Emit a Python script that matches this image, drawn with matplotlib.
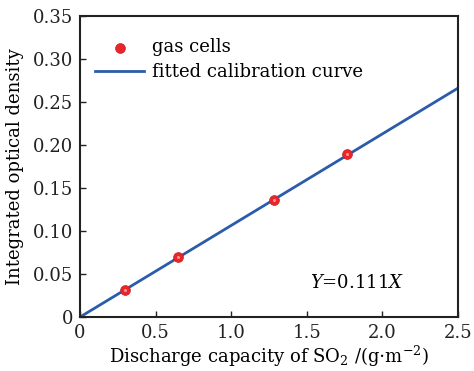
import matplotlib
matplotlib.use("Agg")
import matplotlib.pyplot as plt

# measured points (gas cells)
x_pts = [0.298, 0.648, 1.283, 1.766]
y_pts = [0.0315, 0.070, 0.1365, 0.189]

# fitted calibration line end points as drawn
x_fit = [0.0, 2.5]
y_fit = [0.0, 0.266]

xticks = [0, 0.5, 1.0, 1.5, 2.0, 2.5]
xlabels = ["0", "0.5", "1.0", "1.5", "2.0", "2.5"]
yticks = [0, 0.05, 0.10, 0.15, 0.20, 0.25, 0.30, 0.35]
ylabels = ["0", "0.05", "0.10", "0.15", "0.20", "0.25", "0.30", "0.35"]

plt.rcParams['font.family'] = ['DejaVu Serif']
plt.rcParams['mathtext.fontset'] = 'dejavuserif'

fig = plt.figure(figsize=(4.74, 3.71), dpi=100)
ax = fig.add_axes([0.169, 0.1456, 0.797, 0.8115])

ax.plot(x_fit, y_fit, color='#2a5caa', lw=2, label='fitted calibration curve', zorder=2)
ax.scatter(x_pts, y_pts, s=50, color='#e8262a', edgecolor='#d01c20', lw=0.5,
           label='gas cells', zorder=3)
ax.scatter(x_pts, y_pts, s=5, color='#ff8f8f', lw=0, zorder=4)

ax.set_xlim(0, 2.5)
ax.set_ylim(0, 0.35)
ax.set_xticks(xticks)
ax.set_xticklabels(xlabels)
ax.set_yticks(yticks)
ax.set_yticklabels(ylabels)
ax.tick_params(direction='in', length=4, width=1, labelsize=13, colors='#222222', pad=5)
for s in ax.spines.values():
    s.set_linewidth(1.5)
    s.set_color('#222222')

ax.set_xlabel(r'Discharge capacity of SO$_2$ /(g$\cdot$m$^{-2}$)', fontsize=13, labelpad=1)
ax.set_ylabel('Integrated optical density', fontsize=13, labelpad=6)

ax.text(2.145, 0.040, r'$Y$=0.111$X$', fontsize=13, ha='right', va='center')

h, l = ax.get_legend_handles_labels()
ax.legend(h[::-1], l[::-1], loc='upper left', frameon=False, fontsize=13,
          handlelength=2.7, handletextpad=0.45, borderaxespad=0.0, borderpad=0.0,
          labelspacing=0.38, bbox_to_anchor=(0.04, 0.925))

fig.savefig('out.png', dpi=100)
